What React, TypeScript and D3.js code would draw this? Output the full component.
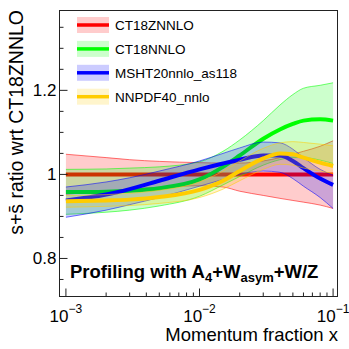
import React from 'react';
import * as d3 from 'd3';

// momentum fraction grid shared by every band
const xs = [1e-3, 2e-3, 3e-3, 5e-3, 1e-2, 1.5e-2, 2e-2, 3e-2, 4e-2, 5e-2, 6e-2, 8e-2, 1e-1];

const ct18zCentral = [1, 1, 1, 1, 1, 1, 1, 1, 1, 1, 1, 1, 1];
const ct18zUp = [1.048, 1.04, 1.035, 1.031, 1.028, 1.027, 1.027, 1.032, 1.04, 1.048, 1.055, 1.067, 1.08];
const ct18zDn = [0.953, 0.96, 0.965, 0.969, 0.973, 0.97, 0.96, 0.95, 0.943, 0.938, 0.934, 0.927, 0.919];

const ct18Central = [0.958, 0.959, 0.961, 0.967, 0.988, 1.018, 1.045, 1.085, 1.107, 1.12, 1.128, 1.131, 1.128];
const ct18Up = [1.012, 1.013, 1.015, 1.018, 1.03, 1.055, 1.082, 1.128, 1.165, 1.19, 1.205, 1.212, 1.218];
const ct18Dn = [0.905, 0.91, 0.915, 0.925, 0.948, 0.975, 0.995, 1.022, 1.035, 1.04, 1.04, 1.034, 1.026];

const mshtCentral = [0.938, 0.952, 0.965, 0.985, 1.012, 1.026, 1.035, 1.045, 1.045, 1.032, 1.015, 0.99, 0.975];
const mshtUp = [0.97, 0.982, 0.992, 1.008, 1.032, 1.05, 1.063, 1.077, 1.075, 1.06, 1.04, 1.012, 0.998];
const mshtDn = [0.898, 0.915, 0.928, 0.945, 0.972, 0.988, 1.0, 1.008, 1.005, 0.99, 0.972, 0.945, 0.919];

const nnpdfCentral = [0.936, 0.938, 0.94, 0.946, 0.963, 0.985, 1.008, 1.038, 1.05, 1.048, 1.04, 1.028, 1.02];
const nnpdfUp = [0.95, 0.952, 0.955, 0.962, 0.982, 1.008, 1.032, 1.062, 1.075, 1.078, 1.076, 1.072, 1.068];
const nnpdfDn = [0.922, 0.924, 0.926, 0.931, 0.945, 0.965, 0.985, 1.012, 1.024, 1.022, 1.015, 1.008, 1.002];

const pdfNames = ['CT18ZNNLO', 'CT18NNLO', 'MSHT20nnlo_as118', 'NNPDF40_nnlo'];
const lineColors = ['#ff0000', '#00ff00', '#0000ff', '#ffcc00'];

const yMajorTicks = [0.8, 1, 1.2];
const yMinorTicks = [0.75, 0.85, 0.9, 0.95, 1.05, 1.1, 1.15, 1.25, 1.3, 1.35];
const xMajorTicks = [1e-3, 1e-2, 1e-1];
const xTickExps = ['\u22123', '\u22122', '\u22121'];

const FONT = "'Liberation Sans', Arial, Helvetica, sans-serif";

const W = 349;
const H = 349;
const left = 59.5;
const right = 337.5;
const top = 10.5;
const bottom = 296.5;

export default function App() {
  const x = d3.scaleLog().domain([Math.pow(10, -3.048), Math.pow(10, -0.967)]).range([left, right]);
  const y = d3.scaleLinear().domain([0.7095, 1.39]).range([bottom, top]);

  const series = [
    { c: ct18zCentral, up: ct18zUp, dn: ct18zDn },
    { c: ct18Central, up: ct18Up, dn: ct18Dn },
    { c: mshtCentral, up: mshtUp, dn: mshtDn },
    { c: nnpdfCentral, up: nnpdfUp, dn: nnpdfDn },
  ];

  const curve = d3.curveMonotoneX;
  const area = d3.area<number>()
    .x((_, i) => x(xs[i]))
    .curve(curve);
  const line = d3.line<number>()
    .x((_, i) => x(xs[i]))
    .y((d) => y(d))
    .curve(curve);

  // minor x ticks 2..9 per decade
  const xMinor: number[] = [];
  [1e-3, 1e-2].forEach((dec) => {
    for (let k = 2; k <= 9; k++) xMinor.push(dec * k);
  });

  return (
    <svg width={W} height={H} style={{ position: 'absolute', left: 0, top: 0, background: '#fff' }}>
      <rect width={W} height={H} fill="#fff" />
      {series.map((s, si) => {
        const ba = area.y0((_, i) => y(s.dn[i])).y1((_, i) => y(s.up[i]));
        const col = lineColors[si];
        return (
          <g key={si}>
            <path d={ba(s.c) || ''} fill={col} fillOpacity={0.2} stroke="none" />
            <path d={line(s.up) || ''} fill="none" stroke={col} strokeOpacity={0.55} strokeWidth={1} />
            <path d={line(s.dn) || ''} fill="none" stroke={col} strokeOpacity={0.55} strokeWidth={1} />
            <path d={line(s.c) || ''} fill="none" stroke={col} strokeWidth={4} />
          </g>
        );
      })}

      {/* frame */}
      <rect x={left} y={top} width={right - left} height={bottom - top} fill="none" stroke="#222" strokeWidth={1} />

      {/* y ticks */}
      {yMajorTicks.map((t) => (
        <g key={t}>
          <line x1={left} x2={left + 8} y1={y(t)} y2={y(t)} stroke="#222" />
          <text x={left - 3} y={y(t) + 6} textAnchor="end" fontFamily={FONT} fontSize={17}>{String(t)}</text>
        </g>
      ))}
      {yMinorTicks.map((t) => (
        <line key={t} x1={left} x2={left + 4} y1={y(t)} y2={y(t)} stroke="#222" />
      ))}

      {/* x ticks */}
      {xMajorTicks.map((t, i) => (
        <g key={t}>
          <line x1={x(t)} x2={x(t)} y1={bottom} y2={bottom - 8} stroke="#222" />
          <text x={x(t)} y={321.5} textAnchor="middle" fontFamily={FONT} fontSize={17}>
            10<tspan fontSize={12} dy={-9}>{xTickExps[i]}</tspan>
          </text>
        </g>
      ))}
      {xMinor.map((t) => (
        <line key={t} x1={x(t)} x2={x(t)} y1={bottom} y2={bottom - 4} stroke="#222" />
      ))}

      {/* axis titles */}
      <text x={338} y={341} textAnchor="end" fontFamily={FONT} fontSize={18.5}>Momentum fraction x</text>
      <text transform="translate(23,10) rotate(-90)" textAnchor="end" fontFamily={FONT} fontSize={19.5}>
        s+s&#x0304; ratio wrt CT18ZNNLO
      </text>

      {/* legend */}
      {pdfNames.map((name, i) => {
        const cy = 25 + i * 23.9;
        return (
          <g key={name}>
            <rect x={77} y={cy - 8} width={32} height={16} fill={lineColors[i]} fillOpacity={0.2} />
            <line x1={77} x2={109} y1={cy} y2={cy} stroke={lineColors[i]} strokeWidth={3.5} />
            <text x={115} y={cy + 5} fontFamily={FONT} fontSize={13.5}>{name}</text>
          </g>
        );
      })}

      {/* profiling label */}
      <text x={70} y={278} fontFamily={FONT} fontSize={18.5} fontWeight="bold">
        Profiling with A<tspan fontSize={13} dy={4}>4</tspan>
        <tspan dy={-4}>+W</tspan><tspan fontSize={13} dy={4}>asym</tspan>
        <tspan dy={-4}>+W/Z</tspan>
      </text>
    </svg>
  );
}
